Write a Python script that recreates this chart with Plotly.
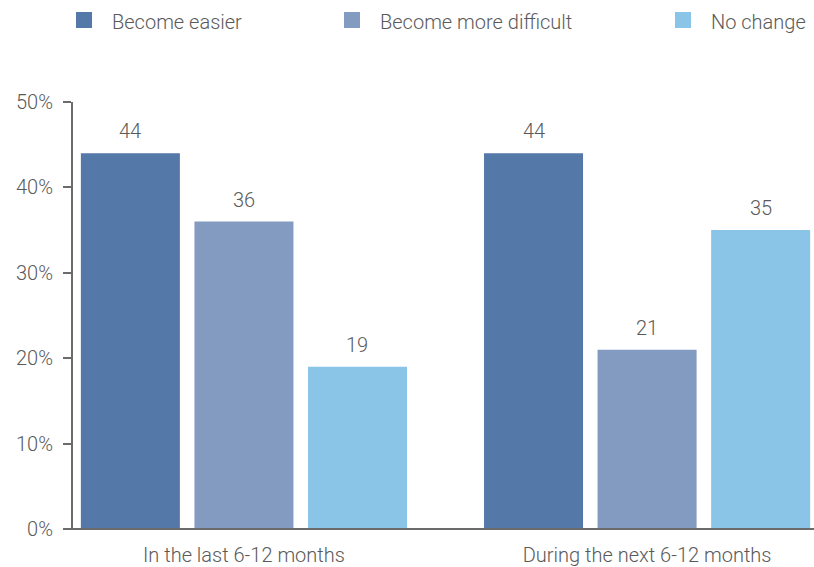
import plotly.graph_objects as go

# Survey responses (%) by period
periods = ["In the last 6-12 months", "During the next 6-12 months"]
series = ["Become easier", "Become more difficult", "No change"]
easier = [44, 44]
more_difficult = [36, 21]
no_change = [19, 35]
colors = ["#5479A8", "#849BC1", "#8AC5E8"]
y_ticks = [0, 10, 20, 30, 40, 50]
y_tick_labels = ["0%", "10%", "20%", "30%", "40%", "50%"]

values = [easier, more_difficult, no_change]

W, H = 814, 567
L, R, T, B = 73, 0, 102, 38
plot_w = W - L - R
plot_h = H - T - B

FONT = "Roboto"
TEXT_COLOR = "#5a5a5a"
AXIS_COLOR = "#6b6b6b"

fig = go.Figure()
for name, vals, col in zip(series, values, colors):
    fig.add_trace(go.Bar(
        x=periods, y=vals, name=name,
        marker=dict(color=col, line=dict(width=0)),
        showlegend=False,
    ))

# value labels above each bar
slot_px = 113.5
for i, vals in enumerate(values):
    for p, v in zip(periods, vals):
        fig.add_annotation(
            x=p, y=v, text=str(v), showarrow=False,
            xanchor="center", yanchor="bottom",
            xshift=(i - 1) * slot_px, yshift=8,
            font=dict(family=FONT, size=20, color=TEXT_COLOR, weight=300),
        )

# legend row across the top
def px_x(px):
    return (px - L) / plot_w

def px_y(py):
    return (H - B - py) / plot_h

legend_sq = [76, 344, 675]
legend_txt = [110, 378, 709]
for name, col, sx, tx in zip(series, colors, legend_sq, legend_txt):
    fig.add_shape(
        type="rect", xref="paper", yref="paper",
        x0=px_x(sx), x1=px_x(sx + 16), y0=px_y(28), y1=px_y(12),
        fillcolor=col, line=dict(width=0),
    )
    fig.add_annotation(
        xref="paper", yref="paper", x=px_x(tx), y=px_y(22),
        text=name, showarrow=False, xanchor="left", yanchor="middle",
        font=dict(family=FONT, size=20, color=TEXT_COLOR, weight=300),
    )

# baseline extending under the y-axis ticks
fig.add_shape(
    type="line", xref="paper", yref="paper",
    x0=px_x(65), x1=1, y0=0, y1=0,
    line=dict(color=AXIS_COLOR, width=2),
)

fig.update_layout(
    width=W, height=H,
    margin=dict(l=L, r=R, t=T, b=B, pad=0),
    paper_bgcolor="white", plot_bgcolor="white",
    barmode="group", bargap=0.155, bargroupgap=0.128,
    font=dict(family=FONT, color=TEXT_COLOR, weight=300),
    xaxis=dict(
        range=[-0.424, 1.414], showgrid=False, zeroline=False,
        showline=False, ticks="",
        tickfont=dict(family=FONT, size=20, color=TEXT_COLOR, weight=300),
        ticklabelstandoff=12,
    ),
    yaxis=dict(
        range=[0, 50], tickvals=y_ticks, ticktext=y_tick_labels,
        showgrid=False, zeroline=False,
        showline=True, linecolor=AXIS_COLOR, linewidth=2,
        ticks="outside", ticklen=8, tickwidth=2, tickcolor=AXIS_COLOR,
        tickfont=dict(family=FONT, size=20, color=TEXT_COLOR, weight=300),
        ticklabelstandoff=6,
    ),
    showlegend=False,
)

fig.write_html("out.html")
